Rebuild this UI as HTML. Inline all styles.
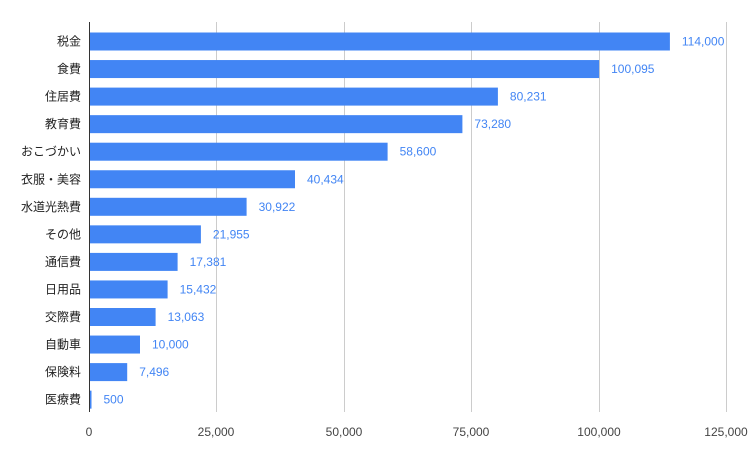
<!DOCTYPE html>
<html><head><meta charset="utf-8"><style>
body{margin:0;background:#fff;}
svg{display:block;font-family:"Liberation Sans","Noto Sans CJK JP",sans-serif;}
</style></head><body>
<svg width="751" height="460" xmlns="http://www.w3.org/2000/svg">
<rect width="751" height="460" fill="#fff"/>
<g stroke="#cccccc" stroke-width="1">
<line x1="216.5" y1="22" x2="216.5" y2="412"/>
<line x1="344.5" y1="22" x2="344.5" y2="412"/>
<line x1="471.5" y1="22" x2="471.5" y2="412"/>
<line x1="599.5" y1="22" x2="599.5" y2="412"/>
<line x1="726.5" y1="22" x2="726.5" y2="412"/>
</g>
<g font-size="12" fill="#444" text-anchor="middle">
<text x="89" y="436">0</text>
<text x="216" y="436">25,000</text>
<text x="344" y="436">50,000</text>
<text x="471" y="436">75,000</text>
<text x="599" y="436">100,000</text>
<text x="726" y="436">125,000</text>
</g>
<g fill="#4285f4">
<rect x="89" y="32.5" width="580.9" height="18"/>
<rect x="89" y="60.05" width="510.1" height="18"/>
<rect x="89" y="87.6" width="408.9" height="18"/>
<rect x="89" y="115.15" width="373.4" height="18"/>
<rect x="89" y="142.7" width="298.6" height="18"/>
<rect x="89" y="170.25" width="206.0" height="18"/>
<rect x="89" y="197.8" width="157.6" height="18"/>
<rect x="89" y="225.35" width="111.9" height="18"/>
<rect x="89" y="252.9" width="88.6" height="18"/>
<rect x="89" y="280.45" width="78.6" height="18"/>
<rect x="89" y="308" width="66.6" height="18"/>
<rect x="89" y="335.55" width="51.0" height="18"/>
<rect x="89" y="363.1" width="38.2" height="18"/>
<rect x="89" y="390.65" width="2.5" height="18"/>
</g>
<g font-size="12" fill="#222" text-anchor="end">
<text x="81" y="45.5">税金</text>
<text x="81" y="73.05">食費</text>
<text x="81" y="100.6">住居費</text>
<text x="81" y="128.15">教育費</text>
<text x="81" y="155.7">おこづかい</text>
<text x="81" y="183.25">衣服・美容</text>
<text x="81" y="210.8">水道光熱費</text>
<text x="81" y="238.35">その他</text>
<text x="81" y="265.9">通信費</text>
<text x="81" y="293.45">日用品</text>
<text x="81" y="321">交際費</text>
<text x="81" y="348.55">自動車</text>
<text x="81" y="376.1">保険料</text>
<text x="81" y="403.65">医療費</text>
</g>
<g font-size="12" fill="#4285f4">
<text x="681.9" y="45.5">114,000</text>
<text x="611.1" y="73.05">100,095</text>
<text x="509.9" y="100.6">80,231</text>
<text x="474.4" y="128.15">73,280</text>
<text x="399.6" y="155.7">58,600</text>
<text x="307" y="183.25">40,434</text>
<text x="258.6" y="210.8">30,922</text>
<text x="212.9" y="238.35">21,955</text>
<text x="189.6" y="265.9">17,381</text>
<text x="179.6" y="293.45">15,432</text>
<text x="167.6" y="321">13,063</text>
<text x="152" y="348.55">10,000</text>
<text x="139.2" y="376.1">7,496</text>
<text x="103.5" y="403.65">500</text>
</g>
<line x1="89.5" y1="22" x2="89.5" y2="412" stroke="#333" stroke-width="1"/>
</svg>
</body></html>
